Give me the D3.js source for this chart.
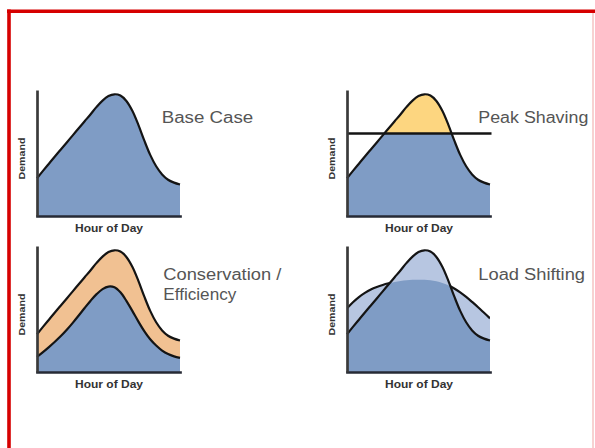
<!DOCTYPE html>
<html>
<head>
<meta charset="utf-8">
<script src="https://cdn.jsdelivr.net/npm/d3@7"></script>
<style>
  html, body { margin: 0; padding: 0; background: #fff; }
  svg { display: block; }
</style>
</head>
<body>
<svg id="chart" width="595" height="448"></svg>
<script>
// ---------- data ----------
const hours = d3.range(0, 25);
const baseCase = [30, 35.8, 41.5, 47.2, 52.8, 58.4, 64, 69.6, 75.2, 80.8, 86.6, 91.6, 95.2, 96.6, 95.6, 91.3, 83.5, 72.5, 60, 48.5, 39.5, 33, 28.8, 26.5, 25];
const efficient = [12, 15.8, 19.8, 24, 28.5, 33.5, 39, 44.8, 50.8, 56.6, 61.8, 65.8, 67.8, 67.2, 63.2, 56.5, 48.5, 40.2, 32.5, 26, 21, 17, 14.2, 12.4, 11.2];
const shifted = [50.5, 55.4, 59.5, 62.8, 65.5, 67.5, 69.1, 70.4, 71.5, 72.3, 72.9, 73.2, 73.3, 73.2, 72.8, 72, 70.7, 68.8, 66.3, 63.2, 59.6, 55.6, 51.4, 47, 42.6];
const peakThreshold = 65.5;
const panelTitles = [["Base Case"], ["Peak Shaving"], ["Conservation /", "Efficiency"], ["Load Shifting"]];
const xAxisLabel = "Hour of Day";
const yAxisLabel = "Demand";

// ---------- layout ----------
const BLUE = "#7f9cc5", LIGHT = "#b7c6e1", ORANGE = "#f1c192", YELLOW = "#fdd680";
const offsets = [[0, 0], [310, 0], [0, 156], [310, 156]];
const titlePos = [[161.7, 122.7, [91.6]], [168.3, 122.7, [110]], [163.3, 123.7, [118, 73]], [168.3, 123.7, [106.7]]];

const svg = d3.select("#chart");

const x = d3.scaleLinear().domain([0, 24]).range([37, 180]);
const y = d3.scaleLinear().domain([0, 100]).range([216, 90]);

const pts = arr => hours.map((h, i) => ({ h, v: arr[i] }));
const curve = d3.curveCatmullRom.alpha(0.5);
const area = d3.area().x(d => x(d.h)).y0(y(0)).y1(d => y(d.v)).curve(curve);
const line = d3.line().x(d => x(d.h)).y(d => y(d.v)).curve(curve);
const aboveArea = d3.area().x(d => x(d.h)).y0(0).y1(d => y(d.v)).curve(curve);

const defs = svg.append("defs");

function strokeLine(g, arr, clip) {
  const p = g.append("path").attr("d", line(pts(arr)))
    .attr("fill", "none").attr("stroke", "#141414").attr("stroke-width", 2.2)
    .attr("stroke-linejoin", "round");
  if (clip) p.attr("clip-path", clip);
  return p;
}

offsets.forEach((off, i) => {
  const g = svg.append("g").attr("transform", `translate(${off[0]},${off[1]})`);

  if (i === 0) {
    g.append("path").attr("d", area(pts(baseCase))).attr("fill", BLUE);
    strokeLine(g, baseCase);
  } else if (i === 1) {
    g.append("path").attr("d", area(pts(baseCase))).attr("fill", BLUE);
    defs.append("clipPath").attr("id", "clipTop").append("rect")
      .attr("x", 0).attr("y", 0).attr("width", 300).attr("height", y(peakThreshold));
    g.append("path").attr("d", area(pts(baseCase))).attr("fill", YELLOW).attr("clip-path", "url(#clipTop)");
    strokeLine(g, baseCase);
    g.append("line").attr("x1", x(0)).attr("x2", x(24) + 1.5)
      .attr("y1", y(peakThreshold)).attr("y2", y(peakThreshold))
      .attr("stroke", "#141414").attr("stroke-width", 2.4);
  } else if (i === 2) {
    g.append("path").attr("d", area(pts(baseCase))).attr("fill", ORANGE);
    g.append("path").attr("d", area(pts(efficient))).attr("fill", BLUE);
    strokeLine(g, baseCase);
    strokeLine(g, efficient);
  } else {
    g.append("path").attr("d", area(pts(shifted))).attr("fill", LIGHT);
    g.append("path").attr("d", area(pts(baseCase))).attr("fill", LIGHT);
    defs.append("clipPath").attr("id", "clipUnderShift").append("path").attr("d", area(pts(shifted)));
    g.append("path").attr("d", area(pts(baseCase))).attr("fill", BLUE).attr("clip-path", "url(#clipUnderShift)");
    defs.append("clipPath").attr("id", "clipAbovePeak").append("path").attr("d", aboveArea(pts(baseCase)));
    strokeLine(g, shifted, "url(#clipAbovePeak)");
    strokeLine(g, baseCase);
  }

  // axes (no ticks, just the domain lines)
  const xa = g.append("g").attr("transform", `translate(0,${y(0)})`)
    .call(d3.axisBottom(x).tickValues([]).tickSizeOuter(0));
  xa.select(".domain").attr("stroke", "#262a35").attr("stroke-width", 2.7).attr("stroke-linecap", "square");
  const ya = g.append("g").attr("transform", `translate(${x(0)},0)`)
    .call(d3.axisLeft(y).tickValues([]).tickSizeOuter(0));
  ya.select(".domain").attr("stroke", "#3a3a3a").attr("stroke-width", 2.7);

  // axis labels
  g.append("text").attr("x", (x(0) + x(24)) / 2 + 0.5).attr("y", 232.3)
    .attr("text-anchor", "middle").attr("font-family", "Liberation Sans, Arial, sans-serif")
    .attr("font-size", 10).attr("font-weight", "bold").attr("fill", "#333")
    .attr("textLength", 68).attr("lengthAdjust", "spacingAndGlyphs").text(xAxisLabel);
  g.append("text").attr("transform", `translate(24.5,158.5) rotate(-90)`)
    .attr("text-anchor", "middle").attr("font-family", "Liberation Sans, Arial, sans-serif")
    .attr("font-size", 9.5).attr("font-weight", "bold").attr("fill", "#333")
    .attr("textLength", 42).attr("lengthAdjust", "spacingAndGlyphs").text(yAxisLabel);

  // titles
  const tp = titlePos[i];
  panelTitles[i].forEach((t, j) => {
    g.append("text").attr("x", tp[0]).attr("y", tp[1] + j * 20)
      .attr("font-family", "Liberation Sans, Arial, sans-serif").attr("font-size", 16)
      .attr("fill", "#555").attr("textLength", tp[2][j]).attr("lengthAdjust", "spacingAndGlyphs")
      .text(t);
  });
});

// red frame
svg.append("line").attr("x1", 7).attr("x2", 595).attr("y1", 11.3).attr("y2", 11.3)
  .attr("stroke", "#d60000").attr("stroke-width", 3.6);
svg.append("line").attr("x1", 9).attr("x2", 9).attr("y1", 9.5).attr("y2", 448)
  .attr("stroke", "#d60000").attr("stroke-width", 3.6);
svg.append("line").attr("x1", 593).attr("x2", 593).attr("y1", 13).attr("y2", 448)
  .attr("stroke", "#f2b4b4").attr("stroke-width", 1.2);
</script>
</body>
</html>
